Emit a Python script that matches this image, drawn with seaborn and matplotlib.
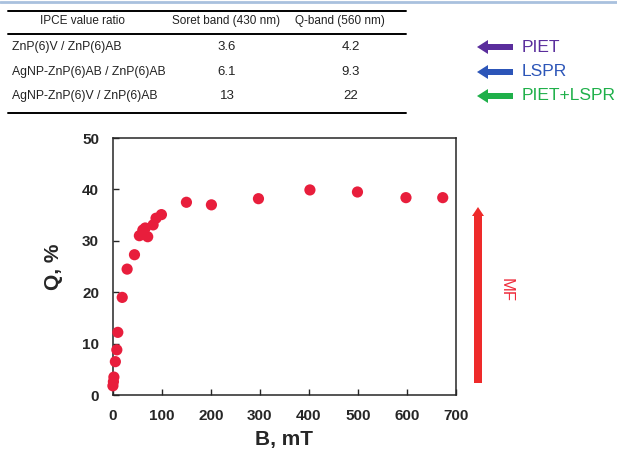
import matplotlib
matplotlib.use("Agg")
import matplotlib.pyplot as plt
import seaborn as sns
import pandas as pd
from matplotlib.patches import FancyArrow
from matplotlib.lines import Line2D

# magnetic field (mT) vs Q (%)
b_field = [0, 1, 2, 5, 8, 10, 19, 29, 44, 54, 61, 66, 71, 82, 88, 99,
           150, 201, 297, 402, 499, 598, 673]
q_value = [1.8, 2.6, 3.5, 6.5, 8.8, 12.2, 19.0, 24.5, 27.3, 31.0, 32.1, 32.5,
           30.8, 33.1, 34.4, 35.1, 37.5, 37.0, 38.2, 39.9, 39.5, 38.4, 38.4]

x_ticks = [0, 100, 200, 300, 400, 500, 600, 700]
y_ticks = [0, 10, 20, 30, 40, 50]

# IPCE table
col_headers = ["IPCE value ratio", "Soret band (430 nm)", "Q-band (560 nm)"]
row_labels = ["ZnP(6)V / ZnP(6)AB", "AgNP-ZnP(6)AB / ZnP(6)AB",
              "AgNP-ZnP(6)V / ZnP(6)AB"]
soret = ["3.6", "6.1", "13"]
qband = ["4.2", "9.3", "22"]
mech = ["PIET", "LSPR", "PIET+LSPR"]
mech_colors = ["#5a2d9c", "#2c55b8", "#1fb04a"]

df = pd.DataFrame({"B": b_field, "Q": q_value})

sns.set_style("ticks")
plt.rcParams["font.family"] = ["Liberation Sans", "DejaVu Sans"]

fig = plt.figure(figsize=(6.17, 4.51), dpi=100)

# overlay in pixel coordinates for the table and arrows
ov = fig.add_axes([0, 0, 1, 1])
ov.set_xlim(0, 617)
ov.set_ylim(451, 0)
ov.axis("off")

ov.add_line(Line2D([0, 617], [2, 2], color="#a9c1de", lw=2))
for yy in [11, 34, 113]:
    ov.add_line(Line2D([8, 406], [yy, yy], color="black", lw=1.4))

col_x = [83, 226, 340]
for cx, h in zip(col_x, col_headers):
    ov.text(cx, 21, h, ha="center", va="center", fontsize=8.5, color="#222222")

row_y = [47, 72, 96]
for i, ry in enumerate(row_y):
    ov.text(12, ry, row_labels[i], ha="left", va="center", fontsize=8.8,
            color="#222222")
    ov.text(227, ry, soret[i], ha="center", va="center", fontsize=9.5,
            color="#222222")
    ov.text(351, ry, qband[i], ha="center", va="center", fontsize=9.5,
            color="#222222")
    ov.add_patch(FancyArrow(513, ry, -25, 0, width=6, head_width=14,
                            head_length=11, length_includes_head=False,
                            color=mech_colors[i], lw=0))
    ov.text(522, ry, mech[i], ha="left", va="center", fontsize=12.5,
            color=mech_colors[i])

# MF arrow
ov.add_patch(FancyArrow(478, 383, 0, -167, width=8, head_width=12,
                        head_length=9, color="#ee2a2a", lw=0))
ov.text(506, 290, "MF", rotation=-90, ha="center", va="center",
        fontsize=12, color="#ee2a3a")

ax = fig.add_axes([0.183, 0.124, 0.556, 0.570])
sns.scatterplot(data=df, x="B", y="Q", ax=ax, color="#e81e3c", s=65,
                edgecolor="none", zorder=3, clip_on=False)
ax.set_xlim(0, 700)
ax.set_ylim(0, 50)
ax.set_xticks(x_ticks)
ax.set_yticks(y_ticks)
ax.tick_params(direction="in", length=4, width=1, labelsize=11)
ax.tick_params(axis="x", pad=10)
ax.tick_params(axis="y", pad=10)
for lab in ax.get_xticklabels() + ax.get_yticklabels():
    lab.set_fontweight("bold")
for sp in ax.spines.values():
    sp.set_linewidth(1.1)
    sp.set_visible(True)
ax.set_xlabel("B, mT", fontsize=15, fontweight="bold", labelpad=5)
ax.set_ylabel("Q, %", fontsize=15, fontweight="bold", labelpad=14)

fig.savefig("out.png", dpi=100)
